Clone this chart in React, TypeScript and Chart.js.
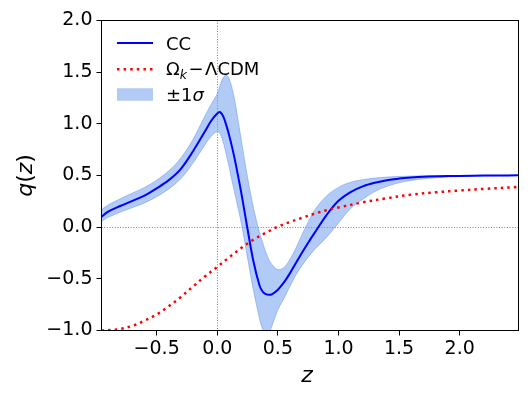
import React, { useEffect, useRef } from 'react';
import { Chart, registerables } from 'chart.js';

Chart.register(...registerables);

// ---- data ----
const zGrid = [-0.955, -0.9, -0.8, -0.7, -0.6, -0.5, -0.4, -0.3, -0.2, -0.1, -0.05, 0, 0.025, 0.05, 0.075, 0.1, 0.125, 0.15, 0.175, 0.2, 0.25, 0.3, 0.35, 0.375, 0.4, 0.425, 0.45, 0.5, 0.55, 0.6, 0.65, 0.7, 0.75, 0.8, 0.9, 1.0, 1.1, 1.2, 1.3, 1.4, 1.5, 1.6, 1.7, 1.9, 2.1, 2.3, 2.485];

const ccValues = [0.10, 0.15, 0.205, 0.255, 0.305, 0.375, 0.455, 0.565, 0.735, 0.93, 1.03, 1.10, 1.112, 1.07, 0.985, 0.88, 0.76, 0.625, 0.475, 0.32, -0.02, -0.34, -0.57, -0.625, -0.648, -0.655, -0.65, -0.605, -0.535, -0.445, -0.345, -0.245, -0.15, -0.06, 0.115, 0.255, 0.34, 0.395, 0.43, 0.455, 0.47, 0.48, 0.487, 0.494, 0.498, 0.5, 0.502];

const upperValues = [0.17, 0.215, 0.275, 0.33, 0.385, 0.455, 0.545, 0.67, 0.85, 1.08, 1.19, 1.29, 1.38, 1.45, 1.47, 1.43, 1.33, 1.19, 1.01, 0.83, 0.48, 0.18, -0.06, -0.15, -0.24, -0.31, -0.36, -0.41, -0.39, -0.31, -0.2, -0.07, 0.05, 0.16, 0.30, 0.385, 0.435, 0.46, 0.475, 0.485, 0.49, 0.494, 0.497, 0.5, 0.5, 0.501, 0.502];

const lowerValues = [0.055, 0.095, 0.145, 0.19, 0.235, 0.295, 0.37, 0.47, 0.62, 0.80, 0.88, 0.925, 0.90, 0.82, 0.70, 0.57, 0.43, 0.30, 0.165, 0.03, -0.30, -0.62, -0.89, -0.99, -1.04, -1.03, -0.96, -0.80, -0.69, -0.57, -0.46, -0.37, -0.29, -0.22, -0.10, 0.04, 0.18, 0.27, 0.345, 0.395, 0.43, 0.452, 0.467, 0.485, 0.493, 0.497, 0.5];

const zLcdm = [-0.955, -0.9, -0.8, -0.7, -0.6, -0.5, -0.4, -0.3, -0.2, -0.1, 0, 0.1, 0.2, 0.3, 0.4, 0.5, 0.6, 0.7, 0.8, 0.9, 1.0, 1.2, 1.4, 1.6, 1.8, 2.0, 2.2, 2.485];
const lcdmValues = [-1.0, -0.997, -0.985, -0.955, -0.905, -0.845, -0.765, -0.675, -0.575, -0.475, -0.385, -0.29, -0.2, -0.12, -0.055, 0.005, 0.05, 0.09, 0.13, 0.163, 0.19, 0.24, 0.28, 0.315, 0.337, 0.355, 0.37, 0.39];

const xTicks = [-0.5, 0, 0.5, 1.0, 1.5, 2.0];
const yTicks = [-1.0, -0.5, 0, 0.5, 1.0, 1.5, 2.0];
const X_MIN = -0.955;
const X_MAX = 2.485;
const Y_MIN = -1;
const Y_MAX = 2;

const legendLabels = ['CC', 'Ω', 'k', '−', 'ΛCDM', '±1', 'σ'];

const BAND = 'rgba(100,149,237,0.5)';
const FONT = '"DejaVu Sans"';

const fmt = (v: number) => v.toFixed(1).replace('-', '\u2212');

type Run = { t: string; f: string; dy?: number; dx?: number };

function runsWidth(ctx: CanvasRenderingContext2D, runs: Run[]) {
  let w = 0;
  for (const r of runs) {
    ctx.font = r.f;
    w += ctx.measureText(r.t).width + (r.dx || 0);
  }
  return w;
}

function drawRuns(ctx: CanvasRenderingContext2D, runs: Run[], x: number, y: number) {
  let cx = x;
  for (const r of runs) {
    ctx.font = r.f;
    cx += r.dx || 0;
    ctx.fillText(r.t, cx, y + (r.dy || 0));
    cx += ctx.measureText(r.t).width;
  }
}

export default function App() {
  const ref = useRef<HTMLCanvasElement>(null);

  useEffect(() => {
    const canvas = ref.current!;
    const pts = (xs: number[], ys: number[]) => xs.map((x, i) => ({ x, y: ys[i] }));

    const overlay = {
      id: 'overlay',
      beforeDatasetsDraw(chart: any) {
        const { ctx, chartArea: a, scales } = chart;
        const x0 = Math.round(scales.x.getPixelForValue(0)) + 0.5;
        const y0 = Math.round(scales.y.getPixelForValue(0)) + 0.5;
        ctx.save();
        ctx.strokeStyle = 'gray';
        ctx.lineWidth = 1;
        ctx.setLineDash([1, 1.65]);
        ctx.beginPath();
        ctx.moveTo(x0, a.top);
        ctx.lineTo(x0, a.bottom);
        ctx.moveTo(a.left, y0);
        ctx.lineTo(a.right, y0);
        ctx.stroke();
        ctx.restore();
      },
      afterDraw(chart: any) {
        const { ctx, chartArea: a } = chart;
        ctx.save();
        // frame
        ctx.strokeStyle = '#000';
        ctx.lineWidth = 1;
        ctx.setLineDash([]);
        ctx.strokeRect(a.left, a.top, a.right - a.left, a.bottom - a.top);

        // legend
        const lf = `18px ${FONT}`;
        const lfi = `italic 18px ${FONT}`;
        const sfi = `italic 12.5px ${FONT}`;
        const hx0 = 117, hx1 = 153, tx = 166;
        ctx.fillStyle = '#000';
        ctx.textAlign = 'left';
        ctx.textBaseline = 'alphabetic';
        // CC
        ctx.strokeStyle = '#0000ff';
        ctx.lineWidth = 2;
        ctx.beginPath();
        ctx.moveTo(hx0, 43);
        ctx.lineTo(hx1, 43);
        ctx.stroke();
        drawRuns(ctx, [{ t: legendLabels[0], f: lf }], tx, 49.8);
        // Omega_k - LCDM
        ctx.strokeStyle = '#ff0000';
        ctx.lineWidth = 2.5;
        ctx.setLineDash([2.5, 4.1]);
        ctx.beginPath();
        ctx.moveTo(hx0, 69.3);
        ctx.lineTo(hx1, 69.3);
        ctx.stroke();
        ctx.setLineDash([]);
        drawRuns(ctx, [
          { t: legendLabels[1], f: lf },
          { t: legendLabels[2], f: sfi, dy: 4 },
          { t: legendLabels[3], f: lf, dx: 1.5 },
          { t: legendLabels[4], f: lf, dx: 1.5 },
        ], tx, 75.3);
        // band
        ctx.fillStyle = BAND;
        ctx.fillRect(hx0, 88.3, hx1 - hx0, 12.4);
        ctx.fillStyle = '#000';
        drawRuns(ctx, [
          { t: legendLabels[5], f: lf },
          { t: legendLabels[6], f: lfi },
        ], tx, 101.3);

        // axis titles
        const af = `22px ${FONT}`;
        const afi = `italic 22px ${FONT}`;
        const cx = (a.left + a.right) / 2;
        const cy = (a.top + a.bottom) / 2;
        const zr: Run[] = [{ t: 'z', f: afi }];
        drawRuns(ctx, zr, cx - 3 - runsWidth(ctx, zr) / 2, 381.5);
        const qr: Run[] = [
          { t: 'q', f: afi },
          { t: '(', f: af },
          { t: 'z', f: afi },
          { t: ')', f: af },
        ];
        ctx.translate(32, cy);
        ctx.rotate(-Math.PI / 2);
        drawRuns(ctx, qr, -runsWidth(ctx, qr) / 2, 0);
        ctx.restore();
      },
    };

    const lineBase = { pointRadius: 0, pointHoverRadius: 0, tension: 0.35 };

    const chart = new Chart(canvas, {
      type: 'line',
      data: {
        datasets: [
          {
            label: 'ΛCDM',
            data: pts(zLcdm, lcdmValues),
            borderColor: '#ff0000',
            borderWidth: 2.5,
            borderDash: [2.5, 4.1],
            fill: false,
            order: 0,
            ...lineBase,
          },
          {
            label: 'CC',
            data: pts(zGrid, ccValues),
            borderColor: '#0000ff',
            borderWidth: 2,
            fill: false,
            order: 1,
            ...lineBase,
          },
          {
            label: 'upper',
            data: pts(zGrid, upperValues),
            borderColor: BAND,
            borderWidth: 1,
            backgroundColor: BAND,
            fill: 3,
            order: 2,
            ...lineBase,
          },
          {
            label: 'lower',
            data: pts(zGrid, lowerValues),
            borderColor: BAND,
            borderWidth: 1,
            fill: false,
            order: 3,
            ...lineBase,
          },
        ],
      },
      options: {
        responsive: false,
        animation: false,
        devicePixelRatio: 1,
        events: [],
        layout: { padding: { top: 20.5, right: 12.5, left: 0, bottom: 0 } },
        plugins: {
          legend: { display: false },
          tooltip: { enabled: false },
        },
        scales: {
          x: {
            type: 'linear',
            min: X_MIN,
            max: X_MAX,
            afterBuildTicks: (s: any) => { s.ticks = xTicks.map((v) => ({ value: v })); },
            afterFit: (s: any) => { s.height = 68.5; },
            grid: { display: true, drawOnChartArea: false, drawTicks: true, tickLength: 5, color: '#000', lineWidth: 1 },
            border: { display: false },
            ticks: {
              color: '#000',
              font: { family: 'DejaVu Sans', size: 19 },
              padding: 2,
              maxRotation: 0,
              autoSkip: false,
              callback: (v: any) => fmt(Number(v)),
            },
          },
          y: {
            type: 'linear',
            min: Y_MIN,
            max: Y_MAX,
            afterBuildTicks: (s: any) => { s.ticks = yTicks.map((v) => ({ value: v })); },
            afterFit: (s: any) => { s.width = 101.5; },
            grid: { display: true, drawOnChartArea: false, drawTicks: true, tickLength: 5, color: '#000', lineWidth: 1 },
            border: { display: false },
            ticks: {
              color: '#000',
              font: { family: 'DejaVu Sans', size: 19 },
              padding: 4,
              autoSkip: false,
              callback: (v: any) => fmt(Number(v)),
            },
          },
        },
      },
      plugins: [overlay],
    } as any);

    return () => chart.destroy();
  }, []);

  return (
    <div style={{ position: 'fixed', left: 0, top: 0, width: 531, height: 399, background: '#fff' }}>
      <canvas ref={ref} width={531} height={399} style={{ width: 531, height: 399, display: 'block' }} />
    </div>
  );
}
